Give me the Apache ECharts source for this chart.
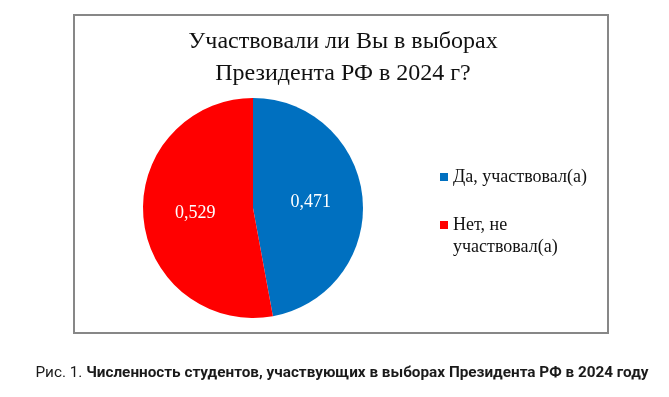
<!DOCTYPE html>
<html>
<head>
<meta charset="utf-8">
<script src="https://cdn.jsdelivr.net/npm/echarts@6/dist/echarts.min.js"></script>
<style>
  html, body { margin: 0; padding: 0; background: #fff; }
  #chart { width: 669px; height: 397px; }
</style>
</head>
<body>
<div id="chart"></div>
<script>
// данные диаграммы
var categories = ['Да, участвовал(а)', 'Нет, не участвовал(а)'];
var values = [0.471, 0.529];
var colors = ['#0070C0', '#FF0000'];

var chart = echarts.init(document.getElementById('chart'));

var pieData = categories.map(function (name, i) {
    return { name: name, value: values[i], itemStyle: { color: colors[i] } };
});

var option = {
    backgroundColor: '#fff',
    animation: false,
    legend: {
        orient: 'vertical',
        left: 440,
        top: 166,
        padding: 0,
        itemGap: 26,
        itemWidth: 8,
        itemHeight: 8,
        icon: 'rect',
        selectedMode: false,
        data: categories,
        formatter: function (name) {
            // вторая строка подписи дорисована ниже
            return name === 'Нет, не участвовал(а)' ? 'Нет, не' : name;
        },
        textStyle: {
            fontFamily: 'Liberation Serif',
            fontSize: 18,
            lineHeight: 22,
            color: '#111'
        }
    },
    graphic: [
        {
            type: 'rect',
            shape: { x: 74, y: 15, width: 534, height: 318 },
            style: { fill: 'none', stroke: '#878787', lineWidth: 2 }
        },
        {
            type: 'text',
            style: {
                x: 343, y: 58,
                text: 'Участвовали ли Вы в выборах\nПрезидента РФ в 2024 г?',
                align: 'center', verticalAlign: 'middle',
                fontFamily: 'Liberation Serif', fontSize: 24, lineHeight: 32,
                fill: '#111'
            }
        },
        {
            type: 'text',
            style: {
                x: 453, y: 247,
                text: 'участвовал(а)',
                align: 'left', verticalAlign: 'middle',
                fontFamily: 'Liberation Serif', fontSize: 18,
                fill: '#111'
            }
        },
        {
            type: 'text',
            style: {
                x: 342, y: 373,
                text: '{n|Рис. 1. }{b|Численность студентов, участвующих в выборах Президента РФ в 2024 году}',
                align: 'center', verticalAlign: 'middle',
                rich: {
                    n: { fontFamily: 'Roboto', fontSize: 15.3, fill: '#1a1a1a' },
                    b: { fontFamily: 'Roboto', fontSize: 15.3, fontWeight: 'bold', fill: '#1a1a1a' }
                }
            }
        }
    ],
    series: [
        {
            name: 'Участие',
            type: 'pie',
            center: [253, 208],
            radius: 110,
            startAngle: 90,
            clockwise: true,
            label: {
                show: true,
                position: 'inside',
                fontFamily: 'Liberation Serif',
                fontSize: 18,
                color: '#fff',
                formatter: function (p) {
                    return String(p.value).replace('.', ',');
                }
            },
            labelLine: { show: false },
            emphasis: { disabled: true },
            itemStyle: { borderWidth: 0 },
            data: pieData
        }
    ]
};

chart.setOption(option);
window.onresize = chart.resize;
</script>
</body>
</html>
